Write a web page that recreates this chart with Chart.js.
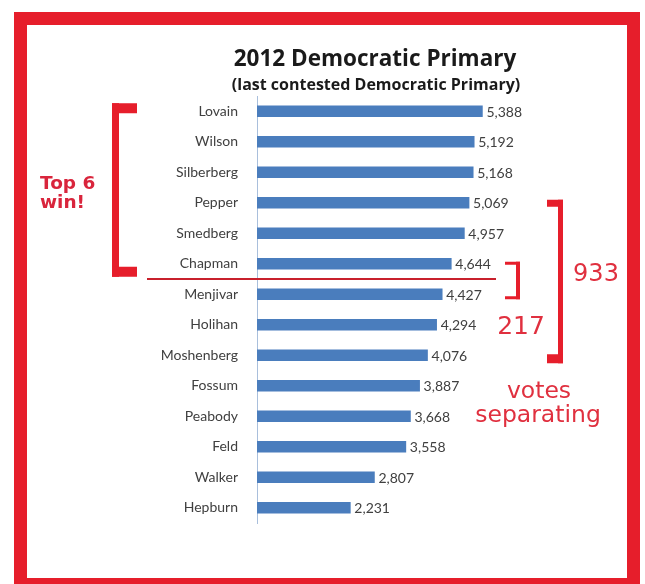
<!DOCTYPE html>
<html>
<head>
<meta charset="utf-8">
<script src="https://cdn.jsdelivr.net/npm/chart.js@4"></script>
<style>
  html, body { margin: 0; padding: 0; background: #ffffff; }
  canvas { display: block; }
</style>
</head>
<body>
<canvas id="primary" width="645" height="584"></canvas>
<script>
// Data
var candidates = ["Lovain", "Wilson", "Silberberg", "Pepper", "Smedberg", "Chapman", "Menjivar",
    "Holihan", "Moshenberg", "Fossum", "Peabody", "Feld", "Walker", "Hepburn"];
var votes = [5388, 5192, 5168, 5069, 4957, 4644, 4427, 4294, 4076, 3887, 3668, 3558, 2807, 2231];
var titleText = "2012 Democratic Primary";
var subtitleText = "(last contested Democratic Primary)";

var RED = "#e61e2b";
var TEXT_RED = "#e0303f";

// Draws the frame, title, value labels and the red notes
var overlay = {
    id: "overlay",
    afterDraw: function (chart) {
        var ctx = chart.ctx;
        var y = chart.scales.y;
        ctx.save();

        // red frame
        ctx.fillStyle = RED;
        ctx.fillRect(14, 12, 626, 13);
        ctx.fillRect(14, 12, 13, 572);
        ctx.fillRect(627, 12, 13, 572);
        ctx.fillRect(14, 578, 626, 6);

        // title
        ctx.fillStyle = "#1a1a1a";
        ctx.textAlign = "center";
        ctx.textBaseline = "middle";
        ctx.font = "bold 22.5px 'Open Sans'";
        ctx.fillText(titleText, 375, 60);
        ctx.font = "bold 16px 'Open Sans'";
        ctx.fillText(subtitleText, 376, 85);

        // value labels
        var meta = chart.getDatasetMeta(0);
        ctx.fillStyle = "#404040";
        ctx.textAlign = "left";
        ctx.font = "14px Lato";
        meta.data.forEach(function (bar, i) {
            ctx.fillText(votes[i].toLocaleString("en-US"), bar.x + 4, bar.y + 1);
        });

        // left bracket round the top six
        var topY = y.getPixelForValue(0) - 8;
        var sixY = y.getPixelForValue(5) + 13;
        ctx.fillStyle = RED;
        ctx.fillRect(112, topY, 7, sixY - topY);
        ctx.fillRect(112, topY, 25, 10);
        ctx.fillRect(112, sixY - 10, 25, 10);

        ctx.fillStyle = "#d9253c";
        ctx.font = "bold 18.5px 'DejaVu Sans'";
        ctx.fillText("Top 6", 40, 184);
        ctx.fillText("win!", 40, 203);

        // cut line between 6th and 7th
        var cutY = (y.getPixelForValue(5) + y.getPixelForValue(6)) / 2;
        ctx.strokeStyle = "#c8202c";
        ctx.lineWidth = 2;
        ctx.beginPath();
        ctx.moveTo(147, cutY);
        ctx.lineTo(496, cutY);
        ctx.stroke();

        // small bracket (217)
        var a = y.getPixelForValue(5) - 2;
        var b = y.getPixelForValue(6) + 5;
        ctx.fillStyle = RED;
        ctx.fillRect(516, a, 4, b - a);
        ctx.fillRect(505, a, 15, 3);
        ctx.fillRect(505, b - 3, 15, 3);

        // big bracket (933)
        var c = y.getPixelForValue(3) - 3;
        var d = y.getPixelForValue(8) + 8;
        ctx.fillRect(558, c, 5, d - c);
        ctx.fillRect(547, c, 16, 7);
        ctx.fillRect(547, d - 9, 16, 9);

        ctx.fillStyle = TEXT_RED;
        ctx.textAlign = "center";
        ctx.font = "24px 'DejaVu Sans'";
        ctx.fillText("933", 596, 275);
        ctx.font = "25px 'DejaVu Sans'";
        ctx.fillText("217", 521, 327);
        ctx.font = "23.5px 'DejaVu Sans'";
        ctx.fillText("votes", 539, 392);
        ctx.fillText("separating", 538, 416);

        ctx.restore();
    }
};

new Chart(document.getElementById("primary"), {
    type: "bar",
    data: {
        labels: candidates,
        datasets: [{
            data: votes,
            backgroundColor: "#4a7dbd",
            borderWidth: 0,
            barThickness: 11
        }]
    },
    options: {
        indexAxis: "y",
        responsive: false,
        animation: false,
        devicePixelRatio: 1,
        layout: {
            padding: { left: 0, right: 137, top: 96, bottom: 61 }
        },
        scales: {
            x: { display: false, min: 0, max: 6000 },
            y: {
                grid: { display: false, drawTicks: false },
                border: { display: true, color: "#a9bfdc", width: 1 },
                ticks: {
                    padding: 19,
                    color: "#404040",
                    font: { family: "Lato", size: 14 }
                },
                afterFit: function (scale) {
                    scale.width = 257;
                }
            }
        },
        plugins: {
            legend: { display: false },
            tooltip: { enabled: false }
        }
    },
    plugins: [overlay]
});
</script>
</body>
</html>
